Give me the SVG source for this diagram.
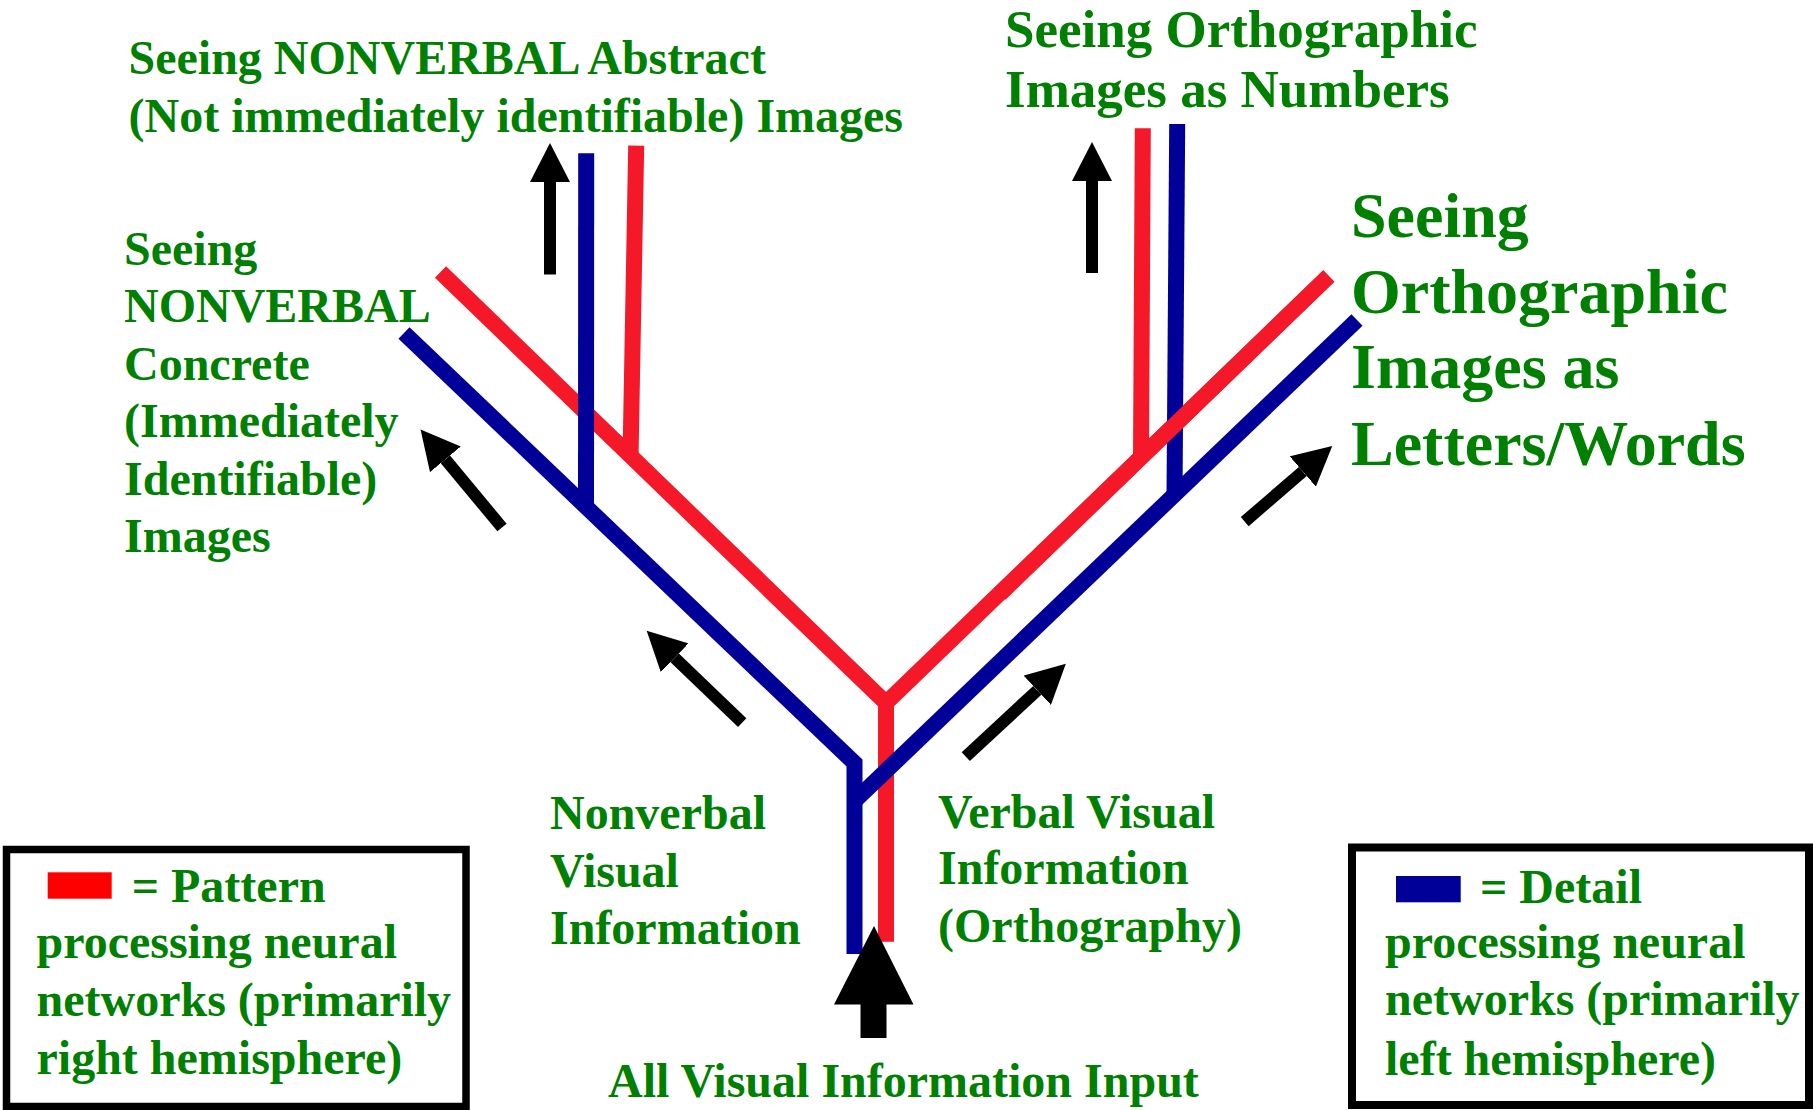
<svg xmlns="http://www.w3.org/2000/svg" width="1813" height="1110" viewBox="0 0 1813 1110">
  <style>
    text { font-family: "Liberation Serif", "Times New Roman", serif; font-weight: bold; fill: #008000; }
    .t48 { font-size: 48px; }
    .t53 { font-size: 53px; }
    .t64 { font-size: 64px; }
    .red { stroke: #F41828; stroke-width: 16; fill: none; stroke-linecap: butt; stroke-linejoin: miter; }
    .blue { stroke: #000099; stroke-width: 16; fill: none; stroke-linecap: butt; stroke-linejoin: miter; }
    .flow { stroke: #000000; stroke-width: 12; fill: none; marker-end: url(#head); }
    .legend { fill: #FFFFFF; stroke: #000000; }
  </style>
  <defs>
    <marker id="head" markerUnits="userSpaceOnUse" markerWidth="40" markerHeight="40" refX="0" refY="18" orient="auto" viewBox="0 0 36 36">
      <path d="M0,0 L35,18 L0,36 Z" fill="#000000"/>
    </marker>
  </defs>
  <rect width="1813" height="1110" fill="#FFFFFF"/>

  <!-- pathways: pattern (red) and detail (blue) networks -->
  <g id="connectors">
    <!-- red: left fork, V and input stem -->
    <line class="red" x1="636.2" y1="145.7" x2="630.5" y2="458"/>
    <polyline class="red" points="440.5,272 886,703 1328.8,276"/>
    <line class="red" x1="886" y1="706" x2="886" y2="941.7"/>
    <!-- blue: left fork over the red diagonal -->
    <polyline class="blue" points="404,333 854.5,763 854.5,954"/>
    <line class="blue" x1="586.2" y1="153.3" x2="586" y2="509"/>
    <!-- blue right fork, then the red diagonal crossing over it -->
    <line class="blue" x1="1177.2" y1="124" x2="1174.5" y2="496"/>
    <line class="red" x1="1142.8" y1="128.3" x2="1141" y2="456"/>
    <line class="red" x1="1000" y1="593.9" x2="1328.8" y2="276"/>
    <line class="blue" x1="854.5" y1="801" x2="1357" y2="320"/>

    <!-- direction of flow -->
    <line class="flow" x1="550" y1="274.5" x2="550" y2="182"/>
    <line class="flow" x1="1092" y1="273" x2="1092" y2="181"/>
    <line class="flow" x1="502" y1="527.5" x2="445.4" y2="459.4"/>
    <line class="flow" x1="742.2" y1="722.7" x2="674.7" y2="657.8"/>
    <line class="flow" x1="965.8" y1="756.6" x2="1037.3" y2="690.3"/>
    <line class="flow" x1="1244.7" y1="521.6" x2="1302.8" y2="471.5"/>
    <polygon points="874,926 913.5,1004.5 886.5,1004.5 886.5,1038 860.5,1038 860.5,1004.5 834,1004.5" fill="#000000"/>
  </g>

  <g id="node-abstract">
    <text class="t48" x="128.5" y="74">Seeing NONVERBAL Abstract</text>
    <text class="t48" x="128.5" y="131.5">(Not immediately identifiable) Images</text>
  </g>

  <g id="node-concrete">
    <text class="t48" x="124" y="264.5">Seeing</text>
    <text class="t48" x="124" y="322">NONVERBAL</text>
    <text class="t48" x="124" y="380">Concrete</text>
    <text class="t48" x="124" y="437">(Immediately</text>
    <text class="t48" x="124" y="495">Identifiable)</text>
    <text class="t48" x="124" y="552">Images</text>
  </g>

  <g id="node-numbers">
    <text class="t53" x="1005" y="47.3">Seeing Orthographic</text>
    <text class="t53" x="1005" y="106.5">Images as Numbers</text>
  </g>

  <g id="node-letters">
    <text class="t64" x="1351" y="237">Seeing</text>
    <text class="t64" x="1351" y="312.6">Orthographic</text>
    <text class="t64" x="1351" y="388.4">Images as</text>
    <text class="t64" x="1351" y="464.5">Letters/Words</text>
  </g>

  <g id="node-nonverbal">
    <text class="t48" x="550" y="829">Nonverbal</text>
    <text class="t48" x="550" y="886.5">Visual</text>
    <text class="t48" x="550" y="944">Information</text>
  </g>

  <g id="node-verbal">
    <text class="t48" x="938" y="828.3">Verbal Visual</text>
    <text class="t48" x="938" y="884.4">Information</text>
    <text class="t48" x="938" y="942.3">(Orthography)</text>
  </g>

  <g id="node-input">
    <text class="t48" x="608" y="1097">All Visual Information Input</text>
  </g>

  <g id="legend-pattern">
    <rect class="legend" x="6.5" y="849.5" width="459.5" height="257" stroke-width="7.5"/>
    <rect x="47.7" y="872.3" width="64" height="26.4" fill="#FF0000"/>
    <text class="t48" x="131.7" y="901.5">= Pattern</text>
    <text class="t48" x="36.5" y="958.3">processing neural</text>
    <text class="t48" x="36.5" y="1016">networks (primarily</text>
    <text class="t48" x="36.5" y="1073.5">right hemisphere)</text>
  </g>

  <g id="legend-detail">
    <rect class="legend" x="1352" y="847.5" width="457" height="257.5" stroke-width="8"/>
    <rect x="1396" y="876" width="64.7" height="26.3" fill="#000099"/>
    <text class="t48" x="1480" y="902.5">= Detail</text>
    <text class="t48" x="1385" y="958.3">processing neural</text>
    <text class="t48" x="1385" y="1015">networks (primarily</text>
    <text class="t48" x="1385" y="1075">left hemisphere)</text>
  </g>
</svg>
